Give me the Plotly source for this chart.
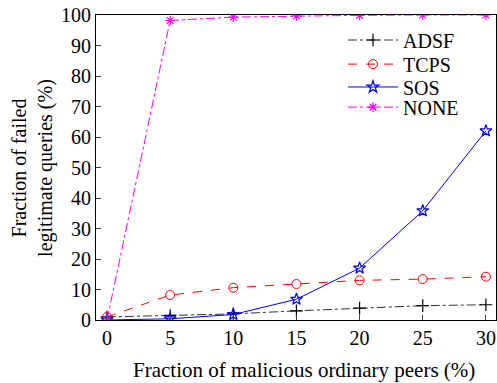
import plotly.graph_objects as go

x_vals = [0, 5, 10, 15, 20, 25, 30]
adsf = [1.0, 1.5, 2.0, 3.0, 3.9, 4.7, 5.0]
tcps = [1.0, 8.2, 10.6, 11.8, 13.0, 13.4, 14.2]
sos = [0.0, 0.4, 1.8, 6.8, 17.0, 35.8, 62.0]
none = [0.0, 98.2, 99.3, 99.7, 99.9, 100.0, 100.0]

x_ticks = [0, 5, 10, 15, 20, 25, 30]
y_ticks = [0, 10, 20, 30, 40, 50, 60, 70, 80, 90, 100]

FONT = "'Liberation Serif', 'Times New Roman', serif"

fig = go.Figure()
fig.add_trace(go.Scatter(x=x_vals, y=adsf, name="ADSF", mode="lines+markers", legend="legend",
                         line=dict(color="#333333", width=1, dash="dashdot"),
                         marker=dict(symbol="cross-thin-open", size=9, color="black",
                                     line=dict(width=1.2, color="black"))))
fig.add_trace(go.Scatter(x=x_vals, y=tcps, name="TCPS", mode="lines+markers", legend="legend2",
                         line=dict(color="red", width=1, dash="dash"),
                         marker=dict(symbol="circle-open", size=9, color="red",
                                     line=dict(width=1, color="red"))))
fig.add_trace(go.Scatter(x=x_vals, y=sos, name="SOS", mode="lines+markers", legend="legend3",
                         line=dict(color="blue", width=1),
                         marker=dict(symbol="star-open", size=9, color="blue",
                                     line=dict(width=1.2, color="blue"))))
fig.add_trace(go.Scatter(x=x_vals, y=none, name="NONE", mode="lines+markers", legend="legend4",
                         line=dict(color="magenta", width=1, dash="dashdot"),
                         marker=dict(symbol="asterisk-open", size=8, color="magenta",
                                     line=dict(width=1.2, color="magenta"))))

def leg(y):
    return dict(x=0.6175, y=y, xanchor="left", yanchor="middle",
                bgcolor="rgba(0,0,0,0)", borderwidth=0,
                font=dict(family=FONT, size=20), itemwidth=50)

fig.update_layout(
    width=497, height=383,
    margin=dict(l=96, r=1, t=15, b=63, autoexpand=False),
    paper_bgcolor="white", plot_bgcolor="white",
    font=dict(family=FONT, size=20, color="black"),
    showlegend=True,
    legend=leg(0.918), legend2=leg(0.839), legend3=leg(0.764), legend4=leg(0.698),
    xaxis=dict(range=[-0.87, 30.8], tickvals=x_ticks, ticks="inside", ticklen=5,
               showline=True, linecolor="black", linewidth=1, mirror=True,
               showgrid=False, zeroline=False, automargin=False,
               tickfont=dict(family=FONT, size=20)),
    yaxis=dict(range=[0, 100], tickvals=y_ticks, ticks="inside", ticklen=5,
               showline=True, linecolor="black", linewidth=1, mirror=True,
               showgrid=False, zeroline=False, automargin=False,
               tickfont=dict(family=FONT, size=20)),
    annotations=[
        dict(text="Fraction of malicious ordinary peers (%)", xref="paper", yref="paper",
             x=0.52, y=-0.164, xanchor="center", yanchor="middle", showarrow=False,
             font=dict(family=FONT, size=21)),
        dict(text="Fraction of failed<br>legitimate queries (%)", xref="paper", yref="paper",
             x=-0.159, y=0.5, xanchor="center", yanchor="middle", showarrow=False,
             textangle=-90, font=dict(family=FONT, size=20)),
    ],
)

fig.write_html("out.html", config={"displayModeBar": False},
               post_script="document.body.style.margin='0px';document.body.style.overflow='hidden';")
